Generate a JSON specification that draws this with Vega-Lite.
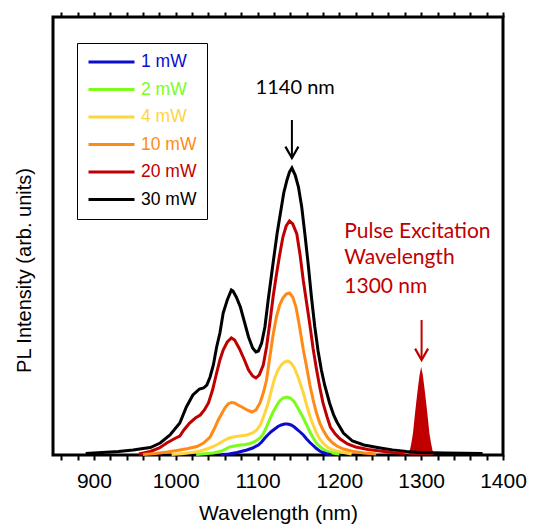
{
  "$schema": "https://vega.github.io/schema/vega-lite/v6.json",
  "width": 450,
  "height": 438,
  "autosize": {"type": "none"},
  "padding": {"left": 53, "top": 17, "right": 30, "bottom": 69},
  "background": "white",
  "config": {"view": {"stroke": "black", "strokeWidth": 3}, "font": "Liberation Sans"},
  "datasets": {
    "spectra": [
      {"p":"30 mW","wl":890,"I":1.5},{"p":"30 mW","wl":910,"I":2.5},{"p":"30 mW","wl":930,"I":3.5},{"p":"30 mW","wl":948,"I":5},{"p":"30 mW","wl":960,"I":6.5},{"p":"30 mW","wl":969,"I":7.5},{"p":"30 mW","wl":981,"I":12},{"p":"30 mW","wl":993,"I":20},{"p":"30 mW","wl":1005,"I":32},{"p":"30 mW","wl":1013,"I":48},{"p":"30 mW","wl":1021,"I":60},{"p":"30 mW","wl":1029,"I":66},{"p":"30 mW","wl":1034,"I":67},{"p":"30 mW","wl":1038,"I":70},{"p":"30 mW","wl":1042,"I":78},{"p":"30 mW","wl":1046,"I":90},{"p":"30 mW","wl":1050,"I":108},{"p":"30 mW","wl":1054,"I":122},{"p":"30 mW","wl":1058,"I":142},{"p":"30 mW","wl":1063,"I":155},{"p":"30 mW","wl":1068,"I":165},{"p":"30 mW","wl":1070,"I":164},{"p":"30 mW","wl":1074,"I":158},{"p":"30 mW","wl":1079,"I":148},{"p":"30 mW","wl":1084,"I":133},{"p":"30 mW","wl":1089,"I":118},{"p":"30 mW","wl":1094,"I":107},{"p":"30 mW","wl":1098,"I":103},{"p":"30 mW","wl":1101,"I":104},{"p":"30 mW","wl":1105,"I":112},{"p":"30 mW","wl":1109,"I":128},{"p":"30 mW","wl":1113,"I":155},{"p":"30 mW","wl":1119,"I":192},{"p":"30 mW","wl":1124,"I":222},{"p":"30 mW","wl":1128,"I":242},{"p":"30 mW","wl":1132,"I":262},{"p":"30 mW","wl":1136,"I":275},{"p":"30 mW","wl":1139,"I":283},{"p":"30 mW","wl":1142,"I":287},{"p":"30 mW","wl":1146,"I":280},{"p":"30 mW","wl":1150,"I":268},{"p":"30 mW","wl":1154,"I":248},{"p":"30 mW","wl":1158,"I":220},{"p":"30 mW","wl":1162,"I":190},{"p":"30 mW","wl":1166,"I":157},{"p":"30 mW","wl":1170,"I":128},{"p":"30 mW","wl":1174,"I":104},{"p":"30 mW","wl":1178,"I":85},{"p":"30 mW","wl":1182,"I":70},{"p":"30 mW","wl":1188,"I":52},{"p":"30 mW","wl":1193,"I":40},{"p":"30 mW","wl":1197,"I":33},{"p":"30 mW","wl":1205,"I":22},{"p":"30 mW","wl":1216,"I":14},{"p":"30 mW","wl":1230,"I":10},{"p":"30 mW","wl":1250,"I":7},{"p":"30 mW","wl":1265,"I":5},{"p":"30 mW","wl":1282,"I":3.5},{"p":"30 mW","wl":1300,"I":2.5},{"p":"30 mW","wl":1330,"I":2},{"p":"30 mW","wl":1375,"I":1.5},
      {"p":"20 mW","wl":955,"I":1},{"p":"20 mW","wl":969,"I":3.5},{"p":"20 mW","wl":980,"I":7},{"p":"20 mW","wl":989,"I":12},{"p":"20 mW","wl":1000,"I":17},{"p":"20 mW","wl":1005,"I":19},{"p":"20 mW","wl":1010,"I":25},{"p":"20 mW","wl":1017,"I":32},{"p":"20 mW","wl":1024,"I":37},{"p":"20 mW","wl":1030,"I":40},{"p":"20 mW","wl":1035,"I":45},{"p":"20 mW","wl":1040,"I":52},{"p":"20 mW","wl":1045,"I":65},{"p":"20 mW","wl":1050,"I":82},{"p":"20 mW","wl":1054,"I":95},{"p":"20 mW","wl":1058,"I":105},{"p":"20 mW","wl":1063,"I":113},{"p":"20 mW","wl":1068,"I":117},{"p":"20 mW","wl":1072,"I":115},{"p":"20 mW","wl":1078,"I":106},{"p":"20 mW","wl":1084,"I":95},{"p":"20 mW","wl":1089,"I":85},{"p":"20 mW","wl":1094,"I":79},{"p":"20 mW","wl":1098,"I":77},{"p":"20 mW","wl":1102,"I":80},{"p":"20 mW","wl":1107,"I":90},{"p":"20 mW","wl":1111,"I":108},{"p":"20 mW","wl":1115,"I":132},{"p":"20 mW","wl":1119,"I":158},{"p":"20 mW","wl":1123,"I":180},{"p":"20 mW","wl":1127,"I":200},{"p":"20 mW","wl":1131,"I":218},{"p":"20 mW","wl":1135,"I":229},{"p":"20 mW","wl":1139,"I":234},{"p":"20 mW","wl":1143,"I":231},{"p":"20 mW","wl":1148,"I":221},{"p":"20 mW","wl":1152,"I":200},{"p":"20 mW","wl":1156,"I":174},{"p":"20 mW","wl":1160,"I":152},{"p":"20 mW","wl":1164,"I":130},{"p":"20 mW","wl":1168,"I":106},{"p":"20 mW","wl":1172,"I":86},{"p":"20 mW","wl":1176,"I":68},{"p":"20 mW","wl":1180,"I":52},{"p":"20 mW","wl":1185,"I":38},{"p":"20 mW","wl":1189,"I":28},{"p":"20 mW","wl":1195,"I":21},{"p":"20 mW","wl":1201,"I":16},{"p":"20 mW","wl":1210,"I":11},{"p":"20 mW","wl":1220,"I":8},{"p":"20 mW","wl":1235,"I":5.5},{"p":"20 mW","wl":1250,"I":4},{"p":"20 mW","wl":1265,"I":2.5},{"p":"20 mW","wl":1280,"I":1.5},
      {"p":"10 mW","wl":960,"I":0.5},{"p":"10 mW","wl":975,"I":1.5},{"p":"10 mW","wl":990,"I":3},{"p":"10 mW","wl":1005,"I":5},{"p":"10 mW","wl":1015,"I":6.5},{"p":"10 mW","wl":1026,"I":8.5},{"p":"10 mW","wl":1034,"I":12},{"p":"10 mW","wl":1042,"I":18},{"p":"10 mW","wl":1047,"I":26},{"p":"10 mW","wl":1052,"I":35},{"p":"10 mW","wl":1056,"I":41},{"p":"10 mW","wl":1060,"I":47},{"p":"10 mW","wl":1064,"I":51},{"p":"10 mW","wl":1068,"I":52.5},{"p":"10 mW","wl":1072,"I":52},{"p":"10 mW","wl":1076,"I":50},{"p":"10 mW","wl":1081,"I":48},{"p":"10 mW","wl":1087,"I":45},{"p":"10 mW","wl":1093,"I":43},{"p":"10 mW","wl":1098,"I":45},{"p":"10 mW","wl":1103,"I":52},{"p":"10 mW","wl":1107,"I":62},{"p":"10 mW","wl":1111,"I":75},{"p":"10 mW","wl":1115,"I":98},{"p":"10 mW","wl":1119,"I":120},{"p":"10 mW","wl":1123,"I":138},{"p":"10 mW","wl":1127,"I":150},{"p":"10 mW","wl":1131,"I":157},{"p":"10 mW","wl":1135,"I":161},{"p":"10 mW","wl":1139,"I":162},{"p":"10 mW","wl":1143,"I":158},{"p":"10 mW","wl":1147,"I":148},{"p":"10 mW","wl":1151,"I":130},{"p":"10 mW","wl":1156,"I":105},{"p":"10 mW","wl":1160,"I":88},{"p":"10 mW","wl":1164,"I":70},{"p":"10 mW","wl":1168,"I":55},{"p":"10 mW","wl":1172,"I":42},{"p":"10 mW","wl":1176,"I":32},{"p":"10 mW","wl":1180,"I":25},{"p":"10 mW","wl":1186,"I":17},{"p":"10 mW","wl":1192,"I":12},{"p":"10 mW","wl":1197,"I":9},{"p":"10 mW","wl":1205,"I":6},{"p":"10 mW","wl":1217,"I":3.5},{"p":"10 mW","wl":1230,"I":2},{"p":"10 mW","wl":1245,"I":1},
      {"p":"4 mW","wl":995,"I":0.5},{"p":"4 mW","wl":1010,"I":1.5},{"p":"4 mW","wl":1020,"I":2.5},{"p":"4 mW","wl":1030,"I":4},{"p":"4 mW","wl":1040,"I":6.5},{"p":"4 mW","wl":1046,"I":8.5},{"p":"4 mW","wl":1052,"I":11},{"p":"4 mW","wl":1058,"I":14},{"p":"4 mW","wl":1064,"I":16.5},{"p":"4 mW","wl":1070,"I":18},{"p":"4 mW","wl":1078,"I":19},{"p":"4 mW","wl":1087,"I":20},{"p":"4 mW","wl":1094,"I":22},{"p":"4 mW","wl":1099,"I":25},{"p":"4 mW","wl":1104,"I":31},{"p":"4 mW","wl":1109,"I":42},{"p":"4 mW","wl":1113,"I":52},{"p":"4 mW","wl":1117,"I":65},{"p":"4 mW","wl":1121,"I":77},{"p":"4 mW","wl":1125,"I":85},{"p":"4 mW","wl":1129,"I":90},{"p":"4 mW","wl":1133,"I":93},{"p":"4 mW","wl":1137,"I":94},{"p":"4 mW","wl":1141,"I":92},{"p":"4 mW","wl":1145,"I":87},{"p":"4 mW","wl":1150,"I":77},{"p":"4 mW","wl":1156,"I":62},{"p":"4 mW","wl":1160,"I":50},{"p":"4 mW","wl":1164,"I":39},{"p":"4 mW","wl":1168,"I":30},{"p":"4 mW","wl":1172,"I":22},{"p":"4 mW","wl":1176,"I":16},{"p":"4 mW","wl":1180,"I":12},{"p":"4 mW","wl":1186,"I":7.5},{"p":"4 mW","wl":1192,"I":5},{"p":"4 mW","wl":1197,"I":4},{"p":"4 mW","wl":1205,"I":2.5},{"p":"4 mW","wl":1215,"I":1},
      {"p":"2 mW","wl":1025,"I":0.5},{"p":"2 mW","wl":1035,"I":1.2},{"p":"2 mW","wl":1046,"I":2},{"p":"2 mW","wl":1056,"I":4},{"p":"2 mW","wl":1066,"I":8},{"p":"2 mW","wl":1075,"I":9.5},{"p":"2 mW","wl":1085,"I":10.5},{"p":"2 mW","wl":1091,"I":11.5},{"p":"2 mW","wl":1097,"I":13.5},{"p":"2 mW","wl":1103,"I":17},{"p":"2 mW","wl":1107,"I":21},{"p":"2 mW","wl":1111,"I":28},{"p":"2 mW","wl":1115,"I":36},{"p":"2 mW","wl":1119,"I":43},{"p":"2 mW","wl":1123,"I":49},{"p":"2 mW","wl":1127,"I":54},{"p":"2 mW","wl":1131,"I":57},{"p":"2 mW","wl":1136,"I":58},{"p":"2 mW","wl":1140,"I":57},{"p":"2 mW","wl":1145,"I":53},{"p":"2 mW","wl":1150,"I":46},{"p":"2 mW","wl":1156,"I":37},{"p":"2 mW","wl":1160,"I":30},{"p":"2 mW","wl":1164,"I":23},{"p":"2 mW","wl":1168,"I":17},{"p":"2 mW","wl":1172,"I":12},{"p":"2 mW","wl":1176,"I":8.5},{"p":"2 mW","wl":1180,"I":6},{"p":"2 mW","wl":1186,"I":3.5},{"p":"2 mW","wl":1192,"I":2},{"p":"2 mW","wl":1200,"I":1},
      {"p":"1 mW","wl":1055,"I":0.3},{"p":"1 mW","wl":1065,"I":1},{"p":"1 mW","wl":1075,"I":2.5},{"p":"1 mW","wl":1087,"I":5},{"p":"1 mW","wl":1094,"I":7},{"p":"1 mW","wl":1101,"I":10},{"p":"1 mW","wl":1105,"I":13},{"p":"1 mW","wl":1109,"I":17},{"p":"1 mW","wl":1113,"I":20.5},{"p":"1 mW","wl":1117,"I":23.5},{"p":"1 mW","wl":1121,"I":26},{"p":"1 mW","wl":1125,"I":28.5},{"p":"1 mW","wl":1129,"I":30},{"p":"1 mW","wl":1133,"I":31},{"p":"1 mW","wl":1137,"I":31},{"p":"1 mW","wl":1141,"I":30},{"p":"1 mW","wl":1145,"I":28},{"p":"1 mW","wl":1150,"I":24.5},{"p":"1 mW","wl":1156,"I":20},{"p":"1 mW","wl":1160,"I":16},{"p":"1 mW","wl":1164,"I":12.5},{"p":"1 mW","wl":1168,"I":9.5},{"p":"1 mW","wl":1172,"I":6.5},{"p":"1 mW","wl":1176,"I":4},{"p":"1 mW","wl":1180,"I":2.5},{"p":"1 mW","wl":1185,"I":1},{"p":"1 mW","wl":1190,"I":0.3}
    ],
    "pulse": [
      {"wl":1284,"I":0},{"wl":1286,"I":4},{"wl":1288,"I":12},{"wl":1290,"I":22},{"wl":1292,"I":38},{"wl":1294,"I":53},{"wl":1296,"I":67},{"wl":1298,"I":80},{"wl":1300,"I":88},{"wl":1302,"I":80},{"wl":1304,"I":67},{"wl":1306,"I":53},{"wl":1308,"I":38},{"wl":1310,"I":22},{"wl":1312,"I":12},{"wl":1314,"I":4},{"wl":1316,"I":0}
    ]
  },
  "layer": [
    {
      "data": {"name": "pulse"},
      "mark": {"type": "area", "color": "#c00000"},
      "encoding": {
        "x": {"field": "wl", "type": "quantitative", "scale": {"domain": [850, 1400], "nice": false},
          "axis": {"orient": "top", "title": null, "labels": false, "values": [860,880,900,920,940,960,980,1000,1020,1040,1060,1080,1100,1120,1140,1160,1180,1200,1220,1240,1260,1280,1300,1320,1340,1360,1380,1400], "tickSize": 5, "tickWidth": 2, "tickColor": "black", "domain": false, "grid": false}},
        "y": {"field": "I", "type": "quantitative", "scale": {"domain": [0, 438], "nice": false},
          "axis": {"title": "PL Intensity (arb. units)", "labels": false, "ticks": false, "domain": false, "grid": false, "titleFont": "Liberation Sans", "titleFontSize": 20, "titleFontWeight": "normal", "titleColor": "black", "titleX": -29, "titleY": 253, "titleAngle": 270, "titleAlign": "center", "titleBaseline": "middle"}}
      }
    },
    {
      "data": {"name": "spectra"},
      "mark": {"type": "line", "strokeWidth": 3},
      "encoding": {
        "x": {"field": "wl", "type": "quantitative", "scale": {"domain": [850, 1400], "nice": false},
          "axis": {"title": "Wavelength (nm)", "format": "d", "values": [860,880,900,920,940,960,980,1000,1020,1040,1060,1080,1100,1120,1140,1160,1180,1200,1220,1240,1260,1280,1300,1320,1340,1360,1380,1400], "labelExpr": "datum.value % 100 === 0 ? datum.label : ''", "labelOverlap": false, "labelFlush": false, "tickSize": 5, "tickWidth": 2, "tickColor": "black", "domain": false, "grid": false, "labelFont": "Liberation Sans", "labelFontSize": 21, "labelColor": "black", "labelPadding": 10, "titleFont": "Liberation Sans", "titleFontSize": 21, "titleFontWeight": "normal", "titleColor": "black", "titlePadding": 11}},
        "y": {"field": "I", "type": "quantitative", "scale": {"domain": [0, 438], "nice": false}, "axis": null},
        "color": {"field": "p", "type": "nominal",
          "scale": {"domain": ["1 mW", "2 mW", "4 mW", "10 mW", "20 mW", "30 mW"], "range": ["#0c0ccf", "#7cfc1c", "#ffd43e", "#ff8a16", "#c00000", "#000000"]},
          "legend": {"orient": "none", "legendX": 24, "legendY": 26, "title": null, "symbolType": "stroke", "symbolSize": 2116, "symbolStrokeWidth": 3, "labelFont": "Liberation Sans", "labelFontSize": 17.5, "labelOffset": 5, "rowPadding": 9.5, "padding": 10, "clipHeight": 18, "strokeColor": "black", "fillColor": "white", "labelColor": {"expr": "scale('color', datum.value)"}}}
      }
    },
    {
      "data": {"values": [{"wl": 1142, "top": 335, "tip": 297}]},
      "mark": {"type": "rule", "color": "black", "strokeWidth": 2},
      "encoding": {"x": {"field": "wl", "type": "quantitative", "axis": null}, "y": {"field": "top", "type": "quantitative", "axis": null}, "y2": {"field": "tip"}}
    },
    {
      "data": {"values": [{"wl": 1142, "tip": 297}]},
      "mark": {"type": "point", "shape": "M-1,-1.75L0,0L1,-1.75", "size": 169, "filled": false, "color": "black", "strokeWidth": 2.2, "opacity": 1},
      "encoding": {"x": {"field": "wl", "type": "quantitative", "axis": null}, "y": {"field": "tip", "type": "quantitative", "axis": null}}
    },
    {
      "data": {"values": [{"wl": 1300.5, "top": 135, "tip": 95}]},
      "mark": {"type": "rule", "color": "#c00000", "strokeWidth": 2},
      "encoding": {"x": {"field": "wl", "type": "quantitative", "axis": null}, "y": {"field": "top", "type": "quantitative", "axis": null}, "y2": {"field": "tip"}}
    },
    {
      "data": {"values": [{"wl": 1300.5, "tip": 95}]},
      "mark": {"type": "point", "shape": "M-1,-1.75L0,0L1,-1.75", "size": 169, "filled": false, "color": "#c00000", "strokeWidth": 2.2, "opacity": 1},
      "encoding": {"x": {"field": "wl", "type": "quantitative", "axis": null}, "y": {"field": "tip", "type": "quantitative", "axis": null}}
    },
    {
      "data": {"values": [{"wl": 1146, "I": 367, "t": "1140 nm"}]},
      "mark": {"type": "text", "font": "Lato", "fontSize": 20, "align": "center", "baseline": "middle", "color": "black"},
      "encoding": {"x": {"field": "wl", "type": "quantitative", "axis": null}, "y": {"field": "I", "type": "quantitative", "axis": null}, "text": {"field": "t"}}
    },
    {
      "data": {"values": [{"wl": 1206, "I": 223, "t": "Pulse Excitation"}, {"wl": 1206, "I": 197, "t": "Wavelength"}, {"wl": 1206, "I": 168, "t": "1300 nm"}]},
      "mark": {"type": "text", "font": "Lato", "fontSize": 21, "align": "left", "baseline": "middle", "color": "#c00000"},
      "encoding": {"x": {"field": "wl", "type": "quantitative", "axis": null}, "y": {"field": "I", "type": "quantitative", "axis": null}, "text": {"field": "t"}}
    }
  ],
  "resolve": {"axis": {"x": "independent", "y": "independent"}}
}
